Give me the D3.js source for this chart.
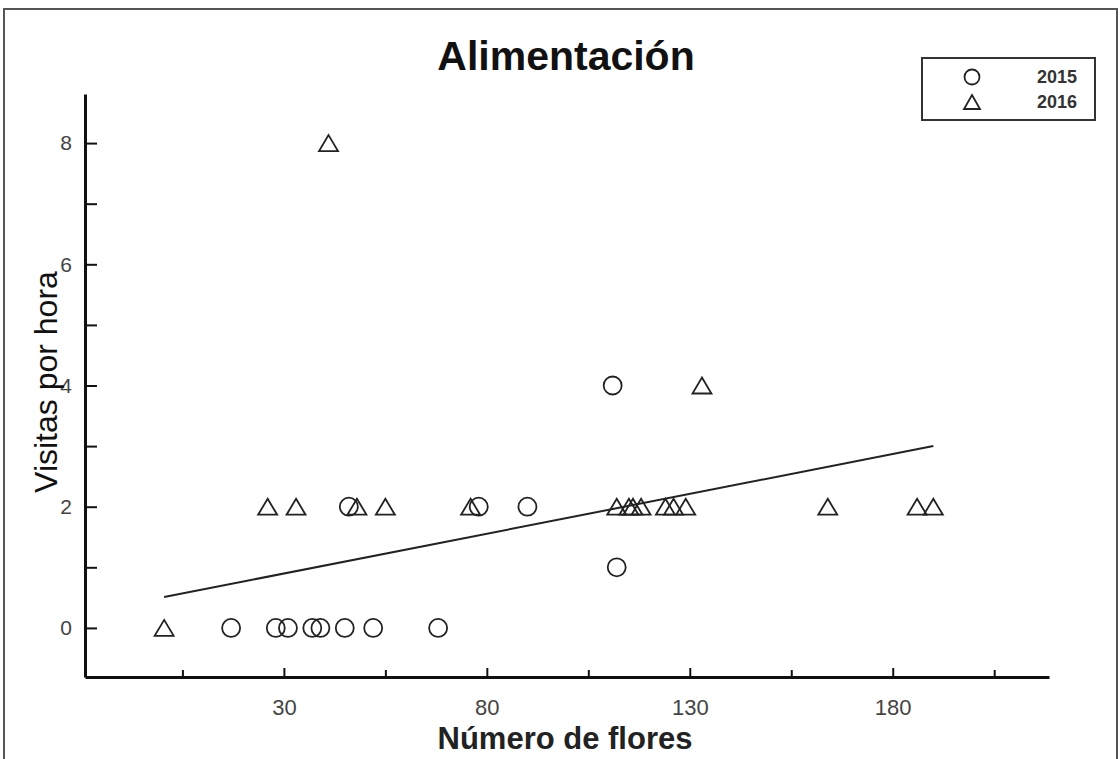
<!DOCTYPE html>
<html>
<head>
<meta charset="utf-8">
<script src="https://cdn.jsdelivr.net/npm/d3@7"></script>
<style>
  body { margin: 0; background: #fff; }
  svg { display: block; font-family: "Liberation Sans", Arial, sans-serif; }
</style>
</head>
<body>
<script>
// values
var flores2015 = [17, 28, 31, 37, 39, 45, 52, 68, 46, 78, 90, 111, 112];
var visitas2015 = [0, 0, 0, 0, 0, 0, 0, 0, 2, 2, 2, 4, 1];
var flores2016 = [0.5, 41, 26, 33, 48, 55, 76, 112, 115, 116, 118, 124, 126, 129, 164, 186, 190, 133];
var visitas2016 = [0, 8, 2, 2, 2, 2, 2, 2, 2, 2, 2, 2, 2, 2, 2, 2, 2, 4];
var trendX = [0.5, 190];
var trendY = [0.51, 3.0];
var xMajor = [30, 80, 130, 180];
var xMinor = [5, 55, 105, 155, 205];
var yMajor = [0, 2, 4, 6, 8];
var yMinor = [1, 3, 5, 7];
var years = ["2015", "2016"];

var width = 1120,
    height = 759;

var svg = d3.select("body")
    .append("svg")
    .attr("width", width)
    .attr("height", height);

// outer frame
svg.append("rect")
    .attr("x", 4).attr("y", 9)
    .attr("width", 1113).attr("height", 800)
    .attr("fill", "none")
    .attr("stroke", "#555")
    .attr("stroke-width", 2);

var x = d3.scaleLinear().domain([-19, 218.5]).range([85, 1049]);
var y = d3.scaleLinear().domain([-0.81, 8.81]).range([677, 94]);

// x axis
var gx = svg.append("g").attr("transform", "translate(0,677)");
gx.call(d3.axisBottom(x).tickValues(xMajor).tickSizeInner(-9).tickSizeOuter(0).tickPadding(22));
gx.append("g").call(d3.axisBottom(x).tickValues(xMinor).tickSizeInner(-7).tickSizeOuter(0).tickFormat(""))
    .select(".domain").remove();
gx.selectAll(".domain").attr("stroke", "#111").attr("stroke-width", 3);
gx.selectAll(".tick line").attr("stroke", "#111").attr("stroke-width", 2);
gx.selectAll(".tick text")
    .attr("font-size", 22)
    .attr("fill", "#444")
    .attr("font-family", "'Liberation Sans', Arial, sans-serif");

// y axis
var gy = svg.append("g").attr("transform", "translate(85,0)");
gy.call(d3.axisLeft(y).tickValues(yMajor).tickSizeInner(-12).tickSizeOuter(0).tickPadding(13));
gy.append("g").call(d3.axisLeft(y).tickValues(yMinor).tickSizeInner(-12).tickSizeOuter(0).tickFormat(""))
    .select(".domain").remove();
gy.selectAll(".domain").attr("stroke", "#111").attr("stroke-width", 3);
gy.selectAll(".tick line").attr("stroke", "#111").attr("stroke-width", 2);
gy.selectAll(".tick text")
    .attr("font-size", 21)
    .attr("fill", "#444")
    .attr("font-family", "'Liberation Sans', Arial, sans-serif");

// titles
svg.append("text")
    .attr("x", 566).attr("y", 70)
    .attr("text-anchor", "middle")
    .attr("font-size", 41)
    .attr("font-weight", "bold")
    .attr("fill", "#111")
    .text("Alimentación");

svg.append("text")
    .attr("x", 565).attr("y", 749)
    .attr("text-anchor", "middle")
    .attr("font-size", 31)
    .attr("font-weight", "bold")
    .attr("fill", "#222")
    .text("Número de flores");

svg.append("text")
    .attr("transform", "translate(57,382) rotate(-90)")
    .attr("text-anchor", "middle")
    .attr("font-size", 32)
    .attr("fill", "#111")
    .text("Visitas por hora");

// regression line
var line = d3.line()
    .x(function(d) { return x(d[0]); })
    .y(function(d) { return y(d[1]); });

svg.append("path")
    .datum(d3.zip(trendX, trendY))
    .attr("d", line)
    .attr("fill", "none")
    .attr("stroke", "#222")
    .attr("stroke-width", 2);

var tri = "M0,-8L9.5,8L-9.5,8Z";

// 2015 circles
svg.append("g").selectAll("circle")
    .data(d3.zip(flores2015, visitas2015))
    .enter()
    .append("circle")
    .attr("cx", function(d) { return x(d[0]); })
    .attr("cy", function(d) { return y(d[1]); })
    .attr("r", 9)
    .attr("fill", "none")
    .attr("stroke", "#222")
    .attr("stroke-width", 1.8);

// 2016 triangles
svg.append("g").selectAll("path")
    .data(d3.zip(flores2016, visitas2016))
    .enter()
    .append("path")
    .attr("d", tri)
    .attr("transform", function(d) { return "translate(" + x(d[0]) + "," + y(d[1]) + ")"; })
    .attr("fill", "none")
    .attr("stroke", "#222")
    .attr("stroke-width", 1.8);

// legend
var legend = svg.append("g");
legend.append("rect")
    .attr("x", 922).attr("y", 58)
    .attr("width", 173).attr("height", 62)
    .attr("fill", "#fff")
    .attr("stroke", "#333")
    .attr("stroke-width", 2);

var items = legend.selectAll("g.item")
    .data(years)
    .enter()
    .append("g")
    .attr("class", "item")
    .attr("transform", function(d, i) { return "translate(972," + (77 + i * 25) + ")"; });

items.each(function(d, i) {
    var g = d3.select(this);
    if (i === 0) {
        g.append("circle").attr("r", 7.5);
    } else {
        g.append("path").attr("d", "M0,-7L8,7L-8,7Z");
    }
    g.selectAll("circle, path")
        .attr("fill", "none")
        .attr("stroke", "#222")
        .attr("stroke-width", 1.8);
    g.append("text")
        .attr("x", 105).attr("dy", "0.36em")
        .attr("text-anchor", "end")
        .attr("font-size", 18)
        .attr("font-weight", "bold")
        .attr("fill", "#333")
        .text(d);
});
</script>
</body>
</html>
